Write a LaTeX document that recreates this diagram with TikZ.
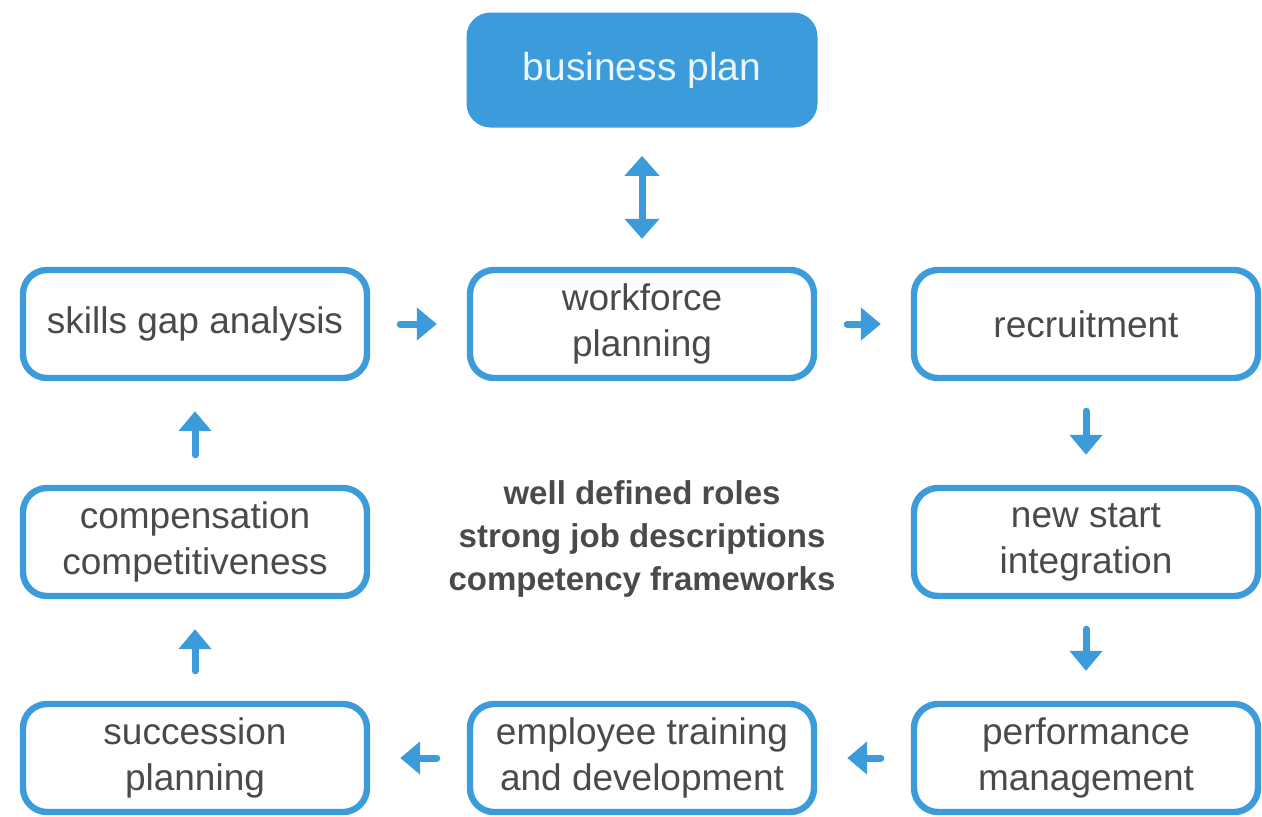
\documentclass[tikz,border=0pt]{standalone}
\usepackage{fontspec}
\setmainfont{Liberation Sans}
\usetikzlibrary{arrows.meta}
\definecolor{hrblue}{HTML}{3C9BDB}
\definecolor{txtgray}{HTML}{4A4A4A}
\definecolor{lighttxt}{HTML}{E8F7FF}
\begin{document}
\begin{tikzpicture}[x={(0.5pt,0)}, y={(0,-0.5pt)},
  box/.style={draw=hrblue, line width=3.2pt, rounded corners=12pt, minimum width=172pt, minimum height=54pt, align=center, text=txtgray, font=\fontsize{18.5}{23}\selectfont, inner sep=0pt},
  planbox/.style={fill=hrblue, rounded corners=12pt, minimum width=175.5pt, minimum height=57.5pt, text=lighttxt, font=\fontsize{19.5}{23}\selectfont, inner sep=0pt},
  flow/.style={draw=hrblue, line width=3.5pt, line cap=round, -{Triangle[width=16pt,length=10pt]}, shorten <=15pt, shorten >=15pt},
  dflow/.style={draw=hrblue, line width=3.5pt, {Triangle[width=17pt,length=10pt]}-{Triangle[width=17pt,length=10pt]}, shorten <=14pt, shorten >=14pt},
  core/.style={align=center, text=txtgray, font=\fontsize{16.5}{21.5}\selectfont\bfseries}
]
\useasboundingbox (0,0) rectangle (1262,816);
\node[planbox] (plan) at (642,70) {\raisebox{-1pt}{business plan}};
\node[box] (skills) at (195,324) {skills gap analysis};
\node[box] (workforce) at (642,324) {workforce\\planning};
\node[box] (recruit) at (1086,324) {recruitment};
\node[box] (comp) at (195,542) {compensation\\competitiveness};
\node[box] (newstart) at (1086,542) {new start\\integration};
\node[box] (succ) at (195,758) {succession\\planning};
\node[box] (train) at (642,758) {employee training\\and development};
\node[box] (perf) at (1086,758) {performance\\management};
\node[core] (centre) at (642,539) {well defined roles\\strong job descriptions\\competency frameworks};

\draw[dflow] (plan) -- (workforce);
\draw[flow] (skills) -- (workforce);
\draw[flow] (workforce) -- (recruit);
\draw[flow] (recruit) -- (newstart);
\draw[flow] (newstart) -- (perf);
\draw[flow] (perf) -- (train);
\draw[flow] (train) -- (succ);
\draw[flow] (succ) -- (comp);
\draw[flow] (comp) -- (skills);
\end{tikzpicture}
\end{document}
